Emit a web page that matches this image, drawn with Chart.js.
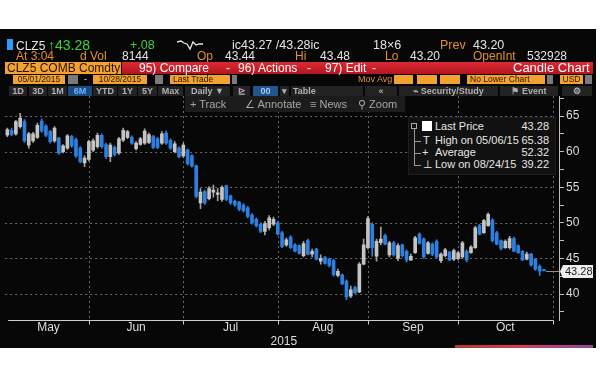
<!DOCTYPE html>
<html>
<head>
<meta charset="utf-8">
<script src="https://cdn.jsdelivr.net/npm/chart.js@4.4.1/dist/chart.umd.min.js"></script>
<style>
html,body{margin:0;padding:0;width:600px;height:380px;background:#fff;overflow:hidden;font-family:"Liberation Sans",Arial,sans-serif;}
#term{position:absolute;left:0;top:29px;width:596px;height:319px;background:#070707;}
#chart{position:absolute;left:0;top:0;}
.a{position:absolute;white-space:nowrap;line-height:1;}
.w{color:#e4e4e4}.o{color:#e38f2e}.g{color:#3fcf3f}
.r1{top:39px;font-size:12.5px}
.r2{top:49.5px;font-size:12px}
.rt{position:absolute;top:62px;color:#fff;font-size:12px;line-height:12px;white-space:nowrap}
.bx{position:absolute;top:75px;height:9px;background:#f3a131;color:#2a1600;font-size:8.5px;line-height:9px;text-align:center;white-space:nowrap;overflow:hidden}
.gb{position:absolute;top:75px;height:9px;background:#7a7a7a}
.bt{position:absolute;top:86px;height:10px;background:#232323;color:#b0b0b0;font-size:9px;line-height:10px;text-align:center;font-weight:bold;white-space:nowrap}
.tb{position:absolute;top:99px;color:#a6a6a6;font-size:11px;line-height:11px;white-space:nowrap}
.lg{position:absolute;color:#e6e6e6;font-size:11px;line-height:11px;white-space:nowrap}
.lv{position:absolute;color:#e6e6e6;font-size:11px;line-height:11px;white-space:nowrap;text-align:right;width:40px;left:509px}
</style>
</head>
<body>
<div id="term"></div>
<canvas id="chart" width="600" height="380"></canvas>

<!-- row 1 -->
<div class="a" style="left:7px;top:39px;width:6px;height:11px;background:#2a9cff"></div>
<div class="a w" style="left:16px;top:39.5px;font-size:12px">CLZ5</div>
<div class="a g" style="left:48px;top:38px;font-size:14px">↑43.28</div>
<div class="a g r1" style="left:130px">+.08</div>
<svg class="a" style="left:176px;top:38px" width="28" height="14"><polyline points="1,4 5,3 8,5 11,6 14,11 17,4 20,7 23,6 27,6" fill="none" stroke="#e6e6e6" stroke-width="1.3"/></svg>
<div class="a w r1" style="left:232px">ic43.27 /43.28ic</div>
<div class="a w r1" style="left:373px">18×6</div>
<div class="a o r1" style="left:440px">Prev</div>
<div class="a w r1" style="left:473px">43.20</div>

<!-- row 2 -->
<div class="a o r2" style="left:16px">At 3:04</div>
<div class="a o r2" style="left:80px">d Vol</div>
<div class="a w r2" style="left:122px">8144</div>
<div class="a o r2" style="left:197px">Op</div>
<div class="a w r2" style="left:225px">43.44</div>
<div class="a o r2" style="left:295px">Hi</div>
<div class="a w r2" style="left:320px">43.48</div>
<div class="a o r2" style="left:385px">Lo</div>
<div class="a w r2" style="left:410px">43.20</div>
<div class="a o r2" style="left:473px">OpenInt</div>
<div class="a w r2" style="left:527px">532928</div>

<!-- row 3 -->
<div class="a" style="left:5px;top:62px;width:116px;height:12px;background:#f3a131;color:#231400;font-size:12px;line-height:12px;padding-left:2px;box-sizing:border-box">CLZ5 COMB Comdty</div>
<div class="a" style="left:122px;top:62px;width:471px;height:12px;background:linear-gradient(#dc2a33,#b4151f)"></div>
<div class="rt" style="left:139px">95) Compare</div>
<div class="rt" style="left:226px">-</div>
<div class="rt" style="left:238px">96) Actions</div>
<div class="rt" style="left:307px">-</div>
<div class="rt" style="left:325px">97) Edit</div>
<div class="rt" style="left:372px">-</div>
<div class="rt" style="left:513px;font-size:13px">Candle Chart</div>

<!-- row 4 -->
<div class="bx" style="left:13px;width:52px">05/01/2015</div>
<div class="gb" style="left:68px;width:10px"></div>
<div class="a w" style="left:84px;top:75px;font-size:9px">-</div>
<div class="bx" style="left:93px;width:54px">10/28/2015</div>
<div class="gb" style="left:155px;width:8px"></div>
<div class="bx" style="left:170px;width:60px;text-align:left;padding-left:3px;box-sizing:border-box">Last Trade</div>
<div class="gb" style="left:232px;width:5px"></div>
<div class="a o" style="left:358px;top:75px;font-size:9px">Mov Avg</div>
<div class="bx" style="left:394px;width:19px"></div>
<div class="bx" style="left:417px;width:20px"></div>
<div class="bx" style="left:440px;width:20px"></div>
<div class="bx" style="left:467px;width:78px;text-align:left;padding-left:3px;box-sizing:border-box">No Lower Chart</div>
<div class="gb" style="left:547px;width:6px"></div>
<div class="bx" style="left:560px;width:23px">USD</div>
<div class="gb" style="left:585px;width:7px"></div>

<!-- row 5 -->
<div class="bt" style="left:9px;width:18px">1D</div>
<div class="bt" style="left:29px;width:18px">3D</div>
<div class="bt" style="left:48px;width:19px">1M</div>
<div class="bt" style="left:68px;width:24px;background:#1d4a7c;color:#6fb2ff">6M</div>
<div class="bt" style="left:93px;width:24px">YTD</div>
<div class="bt" style="left:118px;width:19px">1Y</div>
<div class="bt" style="left:138px;width:19px">5Y</div>
<div class="bt" style="left:158px;width:25px">Max</div>
<div class="bt" style="left:185px;width:45px">Daily ▼</div>
<div class="bt" style="left:233px;width:17px">⊵</div>
<div class="bt" style="left:253px;width:25px;background:#23558c;color:#9fcaff">00</div>
<div class="bt" style="left:280px;width:9px">▾</div>
<div class="bt" style="left:291px;width:72px;text-align:left;padding-left:2px;box-sizing:border-box">Table</div>
<div class="bt" style="left:365px;width:32px">«</div>
<div class="bt" style="left:399px;width:99px">⌁ Security/Study</div>
<div class="bt" style="left:500px;width:58px">⚑ Event</div>
<div class="bt" style="left:562px;width:30px">⚙</div>

<!-- row 6 toolbar -->
<div class="a" style="left:185px;top:96px;width:220px;height:16px;background:#1c1c1c"></div>
<div class="tb" style="left:190px">+ Track</div>
<div class="tb" style="left:245px">∠ Annotate</div>
<div class="tb" style="left:310px">≡ News</div>
<div class="tb" style="left:358px">⚲ Zoom</div>

<!-- legend -->
<div class="a" style="left:408px;top:117px;width:148px;height:58px;background:#111;border:1px solid #1e1e1e;box-sizing:border-box"></div>
<div class="a" style="left:411px;top:123px;width:6px;height:6px;border:1px solid #aaa;box-sizing:border-box"></div>
<div class="a" style="left:414px;top:129px;width:1px;height:37px;background:#999"></div>
<div class="a" style="left:414px;top:141px;width:7px;height:1px;background:#999"></div>
<div class="a" style="left:414px;top:153px;width:7px;height:1px;background:#999"></div>
<div class="a" style="left:414px;top:165px;width:7px;height:1px;background:#999"></div>
<div class="a" style="left:422px;top:121px;width:10px;height:10px;background:#fff"></div>
<div class="lg" style="left:423px;top:135px">T</div>
<div class="lg" style="left:422px;top:147px">+</div>
<div class="lg" style="left:423px;top:159px">⊥</div>
<div class="lg" style="left:435px;top:121px">Last Price</div>
<div class="lg" style="left:435px;top:135px">High on 05/06/15</div>
<div class="lg" style="left:435px;top:147px">Average</div>
<div class="lg" style="left:435px;top:159px">Low on 08/24/15</div>
<div class="lv" style="top:121px">43.28</div>
<div class="lv" style="top:135px">65.38</div>
<div class="lv" style="top:147px">52.32</div>
<div class="lv" style="top:159px">39.22</div>

<div class="a" style="left:455px;top:345px;width:138px;height:3px;background:linear-gradient(90deg,#b33a2a,#d04060,#8a4aa0)"></div>

<script>
const FONT = '"Liberation Sans", Arial, sans-serif';

// daily OHLC, CLZ5, 05/01/2015 - 10/28/2015
const opens = [62.3,63.0,62.5,63.5,64.2,60.9,61.5,62.0,64.3,63.6,
  62.8,61.5,61.9,60.0,60.5,62.1,61.7,60.5,58.4,58.9,
  60.2,60.7,62.3,61.0,59.3,60.6,59.8,61.6,62.0,62.0,
  60.4,61.0,61.2,61.3,62.1,61.8,61.2,62.6,61.6,60.0,
  60.5,59.4,60.2,59.4,58.0,52.8,54.4,53.4,54.3,54.0,
  53.3,55.2,53.8,53.0,52.9,52.5,52.1,51.1,50.5,49.8,
  48.8,49.3,49.8,50.0,48.6,46.9,48.0,46.9,46.8,45.4,
  47.5,45.6,46.3,44.6,45.1,44.9,44.7,42.6,42.7,41.8,
  39.7,40.9,40.3,44.2,46.5,49.8,45.3,47.2,48.2,45.5,
  47.2,45.0,46.9,46.0,44.8,45.8,48.4,47.7,45.7,47.0,
  47.4,44.7,45.4,45.9,44.9,45.0,45.2,46.0,45.8,46.5,
  49.6,48.6,49.6,50.4,48.6,47.5,46.5,46.5,47.8,46.8,
  46.0,44.9,45.6,44.9,43.9,43.44];
const highs = [63.3,63.3,64.4,65.38,64.5,62.7,62.7,64.0,64.6,63.8,
  63.0,63.5,62.0,61.0,62.4,62.3,61.9,60.7,59.4,61.6,
  61.8,62.6,62.5,61.2,61.2,60.8,62.0,63.3,63.0,62.2,
  61.4,62.0,63.2,62.6,62.3,62.0,62.8,62.9,61.8,61.4,
  60.7,61.2,60.4,59.6,58.1,54.8,54.6,55.1,55.3,54.8,
  55.2,55.3,53.9,53.2,53.0,52.7,52.3,51.3,50.7,50.0,
  50.2,51.0,50.8,50.2,48.8,47.9,48.2,47.1,46.9,47.4,
  47.7,46.3,46.4,45.5,45.3,45.0,44.9,43.5,42.8,42.0,
  41.1,41.1,44.4,47.7,50.9,50.0,47.7,49.4,48.4,47.4,
  47.4,47.1,47.0,46.2,45.6,48.1,48.6,47.9,47.4,47.2,
  47.6,45.8,46.4,46.0,46.3,46.0,47.4,46.2,46.8,49.5,
  49.8,50.5,51.4,50.6,48.8,47.6,47.6,48.1,48.0,46.9,
  46.1,45.9,45.7,45.0,44.1,43.48];
const lows = [62.1,62.2,62.3,63.3,61.3,60.5,61.3,61.8,62.7,62.1,
  61.2,61.3,59.6,59.8,60.3,60.6,59.2,58.4,57.9,58.7,
  60.0,60.5,60.5,59.0,58.6,59.4,59.6,61.4,61.8,61.0,
  60.2,60.9,61.0,61.1,60.4,60.4,61.0,61.0,60.3,59.8,
  59.1,59.2,58.1,57.8,53.5,52.0,52.6,53.2,53.6,53.1,
  53.0,53.1,52.6,52.3,51.7,51.5,50.7,49.8,49.4,48.6,
  48.3,49.0,49.6,48.3,46.5,46.7,46.4,45.9,45.6,45.2,
  45.5,45.2,44.8,44.2,44.2,43.8,42.5,42.4,41.3,39.22,
  39.5,40.0,40.2,44.1,46.3,45.3,44.6,46.9,46.9,45.2,
  45.3,44.7,45.2,44.5,44.7,45.7,47.0,45.0,45.6,45.4,
  45.0,44.4,45.2,44.7,44.7,44.8,45.0,44.5,45.7,46.4,
  48.3,48.5,49.5,47.3,46.9,46.2,46.4,46.3,45.9,45.7,
  44.7,44.8,43.9,43.3,42.6,43.20];
const closes = [63.1,62.4,64.2,64.7,61.5,62.5,62.5,63.7,62.9,62.3,
  61.4,63.3,59.8,60.8,62.2,60.8,59.4,58.6,59.1,61.4,
  61.5,62.3,60.7,59.3,60.9,59.6,61.8,63.0,62.8,61.2,
  61.2,61.8,62.9,62.4,60.6,60.6,62.5,61.2,60.5,61.1,
  59.3,60.9,58.3,58.0,53.7,54.3,52.8,54.8,54.6,54.2,
  55.0,53.3,52.8,52.5,51.9,51.7,50.9,50.0,49.6,48.8,
  49.9,50.7,50.5,48.4,46.7,47.6,46.5,46.0,45.7,47.1,
  45.6,46.0,44.9,45.0,44.3,44.0,42.7,43.2,41.4,39.6,
  40.6,40.2,44.2,46.9,50.6,46.5,47.4,47.7,47.0,47.2,
  45.5,46.8,45.4,44.8,45.3,47.9,47.1,45.2,47.2,45.6,
  45.2,45.6,46.2,44.8,46.1,45.8,47.2,44.8,46.6,49.3,
  48.4,50.3,51.2,47.5,47.0,46.4,47.4,47.8,46.0,45.8,
  44.8,45.6,44.1,43.5,43.2,43.28];

const monthLabels = ['May','Jun','Jul','Aug','Sep','Oct'];
const monthStartIdx = [0,19,41,63,84,105];
const yearLabel = '2015';
const lastPrice = 43.28;
const priceGrid = [40,45,50,55,60,65];
const axisEndIdx = 127;
const slots = 129;
const sessions = Array.from({length: slots}, (_, i) => String(i));

const bodies = opens.map((o, i) => [Math.min(o, closes[i]), Math.max(o, closes[i])]);
const wicks = lows.map((l, i) => [l, highs[i]]);
const isUp = i => i !== undefined && closes[i] >= opens[i];

const BLUE = '#2e80e0', WHITE = '#c4c4c4', WICK_UP = '#a2a2a2';

const bbg = {
  id: 'bbg',
  beforeDatasetsDraw(chart) {
    const {ctx, chartArea: a, scales: {x, y}} = chart;
    const endX = Math.round(x.getPixelForValue(axisEndIdx)) + 0.5;
    ctx.save();
    ctx.strokeStyle = 'rgba(150,150,150,0.7)';
    ctx.lineWidth = 1;
    ctx.setLineDash([2, 3]);
    ctx.beginPath();
    priceGrid.forEach(v => {
      const py = Math.round(y.getPixelForValue(v)) + 0.5;
      ctx.moveTo(a.left, py); ctx.lineTo(endX, py);
    });
    monthStartIdx.slice(1).forEach(i => {
      const px = Math.round(x.getPixelForValue(i)) + 0.5;
      ctx.moveTo(px, a.top); ctx.lineTo(px, a.bottom);
    });
    ctx.moveTo(endX, a.top); ctx.lineTo(endX, a.bottom);
    ctx.stroke();
    ctx.restore();
  },
  afterDatasetsDraw(chart) {
    const {ctx, chartArea: a, scales: {x, y}} = chart;
    const endX = Math.round(x.getPixelForValue(axisEndIdx)) + 0.5;
    const by = Math.round(a.bottom) + 0.5;
    ctx.save();
    ctx.strokeStyle = '#cfcfcf';
    ctx.lineWidth = 1;
    ctx.beginPath();
    ctx.moveTo(a.left + 3, by); ctx.lineTo(endX, by);
    monthStartIdx.slice(1).concat([axisEndIdx]).forEach(i => {
      const px = Math.round(x.getPixelForValue(i)) + 0.5;
      ctx.moveTo(px, by); ctx.lineTo(px, by + 4);
    });
    ctx.stroke();

    ctx.fillStyle = '#dedede';
    ctx.font = '12px ' + FONT;
    ctx.textAlign = 'center';
    ctx.textBaseline = 'middle';
    monthLabels.forEach((m, k) => {
      const s = k === 0 ? a.left + 3 : x.getPixelForValue(monthStartIdx[k]);
      const e = k < monthLabels.length - 1 ? x.getPixelForValue(monthStartIdx[k + 1]) : x.getPixelForValue(axisEndIdx);
      ctx.fillText(m, (s + e) / 2, a.bottom + 8);
    });
    ctx.fillText(yearLabel, (a.left + 3 + endX) / 2 + 3, a.bottom + 22);

    // last price line + tag
    const ly = Math.round(y.getPixelForValue(lastPrice)) + 0.5;
    const lx = x.getPixelForValue(opens.length - 1) + 2;
    ctx.strokeStyle = '#b08a5e';
    ctx.beginPath(); ctx.moveTo(lx, ly); ctx.lineTo(a.right, ly); ctx.stroke();
    const bx = a.right + 4;
    ctx.fillStyle = '#eeeeee';
    ctx.beginPath();
    ctx.moveTo(bx - 3, ly);
    ctx.lineTo(bx, ly - 6.5);
    ctx.lineTo(bx + 30, ly - 6.5);
    ctx.lineTo(bx + 30, ly + 6.5);
    ctx.lineTo(bx, ly + 6.5);
    ctx.closePath();
    ctx.fill();
    ctx.fillStyle = '#1a1a1a';
    ctx.font = '11px ' + FONT;
    ctx.textAlign = 'left';
    ctx.fillText(String(lastPrice), bx + 2, ly + 0.5);
    ctx.restore();
  }
};

new Chart(document.getElementById('chart'), {
  type: 'bar',
  data: {
    labels: sessions,
    datasets: [
      { label: 'body', data: bodies, grouped: false, barThickness: 3, borderWidth: 0, minBarLength: 1,
        backgroundColor: c => isUp(c.dataIndex) ? WHITE : BLUE },
      { label: 'wick', data: wicks, grouped: false, barThickness: 1, borderWidth: 0,
        backgroundColor: c => isUp(c.dataIndex) ? WICK_UP : BLUE }
    ]
  },
  options: {
    responsive: false,
    animation: false,
    layout: { padding: { left: 5.15, right: 6, top: 96, bottom: 60 } },
    plugins: { legend: { display: false }, tooltip: { enabled: false } },
    scales: {
      x: { type: 'category', display: false, offset: true },
      y: {
        position: 'right',
        min: 36.35, max: 67.81,
        afterFit(s) { s.width = 35; },
        grid: { drawOnChartArea: false, drawTicks: true, tickLength: 5, tickColor: '#bdbdbd', color: '#bdbdbd' },
        border: { display: true, color: '#bdbdbd', width: 1 },
        ticks: {
          stepSize: 2.5, includeBounds: false, autoSkip: false, padding: 2,
          color: '#dcdcdc', font: { family: FONT, size: 12 },
          callback: v => (Math.abs(v % 5) < 1e-9 ? String(v) : '')
        }
      }
    }
  },
  plugins: [bbg]
});
</script>
</body>
</html>
